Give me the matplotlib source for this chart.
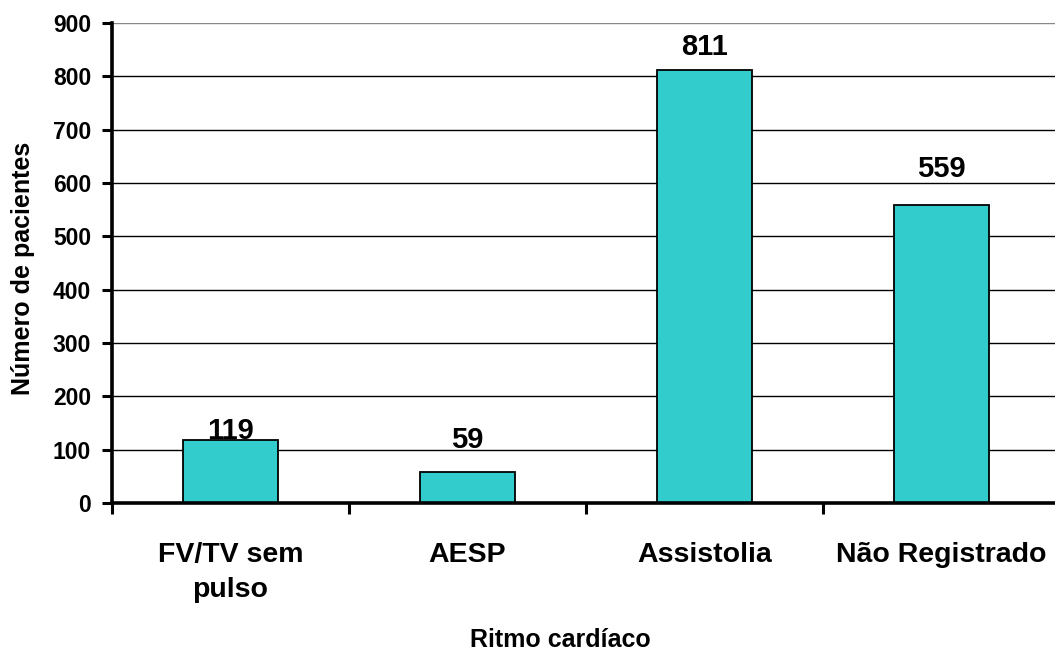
import matplotlib
matplotlib.use("Agg")
import matplotlib.pyplot as plt
import numpy as np

categories = ["FV/TV sem\npulso", "AESP", "Assistolia", "Não Registrado"]
values = [119, 59, 811, 559]
yticks = [0, 100, 200, 300, 400, 500, 600, 700, 800, 900]
label_gap_px = [1, 24, 15, 28]

plt.rcParams['font.family'] = ['Liberation Sans', 'DejaVu Sans']
plt.rcParams['font.weight'] = 'bold'

fig = plt.figure(figsize=(10.55, 6.52), dpi=100)
ax = fig.add_axes([112/1055, (652-503)/652, (1060-112)/1055, 480/652])

x = np.arange(len(categories))
bars = ax.bar(x, values, width=0.405, color='#33CCCC', edgecolor='black', linewidth=1.3, zorder=3)

ax.set_xlim(-0.5, len(categories) - 0.5)
ax.set_ylim(0, 900)
ax.set_yticks(yticks)
ax.set_yticklabels([str(t) for t in yticks], fontsize=16.5, fontweight='bold')

# x ticks at slot boundaries, labels at centers
ax.set_xticks(np.arange(-0.5, len(categories), 1.0))
ax.set_xticklabels([])
ax.set_xticks(x, minor=True)
ax.set_xticklabels(categories, minor=True, fontsize=20.5, fontweight='bold', linespacing=1.45)
ax.tick_params(axis='x', which='minor', length=0, pad=28)
ax.tick_params(axis='x', which='major', length=8, width=2.2, direction='out', color='black')
ax.tick_params(axis='y', length=7, width=2.2, direction='out', pad=8)

for t in yticks[1:]:
    ax.axhline(t, color='#888888' if t == 900 else 'black', linewidth=1.0, zorder=1)

for s in ['top', 'right']:
    ax.spines[s].set_visible(False)
for s in ['left', 'bottom']:
    ax.spines[s].set_linewidth(2.6)
    ax.spines[s].set_zorder(4)

for xi, v, g in zip(x, values, label_gap_px):
    ax.annotate(str(v), (xi, v), xytext=(0, g), textcoords='offset pixels',
                ha='center', va='baseline', fontsize=21, fontweight='bold', zorder=5)

fig.text(23/1055, 1 - 268/652, "Número de pacientes", rotation=90, ha='center', va='center',
         fontsize=18, fontweight='bold')
fig.text(560/1055, 1 - 640/652, "Ritmo cardíaco", ha='center', va='center',
         fontsize=18, fontweight='bold')

fig.savefig("out.png", dpi=100)
